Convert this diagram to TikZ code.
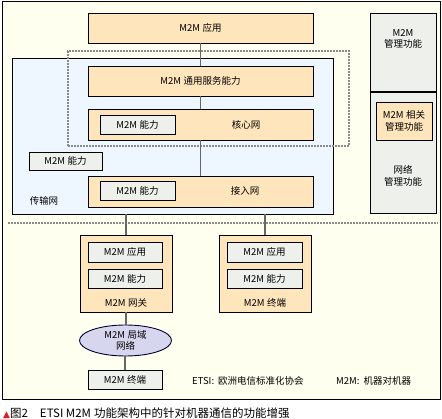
\documentclass[tikz,border=0pt]{standalone}
\usepackage{fontspec}
\setmainfont{Noto Sans CJK SC}
\usetikzlibrary{shapes.geometric}
\definecolor{cream}{HTML}{FFFFEF}
\definecolor{peach}{HTML}{FFE5BC}
\definecolor{lgray}{HTML}{EDF0EB}
\definecolor{lblue}{HTML}{EEF6FF}
\definecolor{lav}{HTML}{D6D6EE}
\definecolor{conn}{HTML}{666666}
\definecolor{dotc}{HTML}{8A8A8A}
\definecolor{capred}{HTML}{D02020}
\newcommand{\mtm}{M2M\hspace{2.5pt}}
\tikzset{
  bx/.style={draw=black, line width=0.9pt, inner sep=0pt, font=\fontsize{9.5}{11.5}\selectfont},
  orange/.style={bx, fill=peach},
  graybox/.style={bx, fill=lgray},
  conline/.style={draw=conn, line width=1.4pt},
  dotline/.style={draw=dotc, line width=1.6pt, dash pattern=on 1.6pt off 1.4pt},
  lbl/.style={inner sep=0pt, font=\fontsize{9.5}{11.5}\selectfont, align=center}
}
\begin{document}
\begin{tikzpicture}[x=1pt,y=-1pt]
\useasboundingbox (0,0) rectangle (442,419);
% outer frame
\node[draw=black, line width=0.8pt, fill=cream, minimum width=438pt, minimum height=398pt, inner sep=0pt] (frame) at (221,200) {};
% dotted separator
\coordinate (sepL) at (8,223);
\coordinate (sepR) at (438,223);
\draw[dotline] (sepL) -- (sepR);
% transport network
\node[draw=black, line width=0.9pt, fill=lblue, minimum width=321pt, minimum height=156pt, inner sep=0pt] (trans) at (172.5,136) {};
\node[lbl] (translbl) at (44,201) {传输网};
% app
\node[orange, minimum width=225pt, minimum height=30pt] (app) at (200.5,28) {\mtm 应用};
\node[orange, minimum width=225pt, minimum height=30pt] (csc) at (200.5,81) {\mtm 通用服务能力};
\node[orange, minimum width=225pt, minimum height=31pt] (core) at (200.5,124.5) {};
\node[lbl] (corelbl) at (246,125) {核心网};
\node[graybox, minimum width=75pt, minimum height=19pt] (corecap) at (137.5,124.5) {\mtm 能力};
\node[graybox, minimum width=73pt, minimum height=18pt] (midcap) at (65.5,161) {\mtm 能力};
\node[orange, minimum width=225pt, minimum height=31pt] (access) at (200.5,191.5) {};
\node[lbl] (acclbl) at (245,191) {接入网};
\node[graybox, minimum width=75pt, minimum height=19pt] (acccap) at (137.5,190.5) {\mtm 能力};
% dotted rectangle
\node[dotline, minimum width=281pt, minimum height=95pt, inner sep=0pt] (dotrect) at (208.5,98.5) {};
% connectors main
\draw[conline] (app.south) -- (csc.north);
\draw[conline] (csc.south) -- (core.north);
\draw[conline] (core.south) -- (access.north);
% management column
\node[graybox, minimum width=66pt, minimum height=79pt] (mgmt) at (403,52.5) {};
\node[graybox, minimum width=66pt, minimum height=121pt] (netm) at (403,152.5) {};
\draw[line width=2pt] (mgmt.south west) -- (mgmt.south east);
\node[lbl] (mgmtlbl) at (403,39) {M2M\\管理功能};
\node[orange, minimum width=56pt, minimum height=38pt, align=center] (rel) at (404,121) {\mtm 相关\\管理功能};
\node[lbl] (netmlbl) at (403,176) {网络\\管理功能};
% gateway
\node[orange, minimum width=92pt, minimum height=77pt] (gw) at (126,273.5) {};
\node[graybox, minimum width=74pt, minimum height=20pt] (gwapp) at (125,252) {\mtm 应用};
\node[graybox, minimum width=74pt, minimum height=19pt] (gwcap) at (125,278.5) {\mtm 能力};
\node[lbl] (gwlbl) at (126,303) {\mtm 网关};
% device
\node[orange, minimum width=92pt, minimum height=77pt] (dev) at (265,273.5) {};
\node[graybox, minimum width=75pt, minimum height=20pt] (devapp) at (264.5,252) {\mtm 应用};
\node[graybox, minimum width=75pt, minimum height=19pt] (devcap) at (264.5,278.5) {\mtm 能力};
\node[lbl] (devlbl) at (265,303) {\mtm 终端};
\draw[conline] (trans.south -| gw.north) -- (gw.north);
\draw[conline] (trans.south -| dev.north) -- (dev.north);
% LAN
\node[ellipse, draw=black!80!blue, line width=0.9pt, fill=lav, minimum width=92pt, minimum height=31pt, inner sep=0pt, align=center, font=\fontsize{9.5}{11}\selectfont] (lan) at (125.5,340.5) {\mtm 局域\\网络};
\node[graybox, minimum width=74pt, minimum height=19pt] (term) at (125,379.5) {\mtm 终端};
\draw[conline] (gw.south) -- (lan.north -| gw.south);
\draw[conline] (lan.south -| term.north) -- (term.north);
% legend
\node[lbl, anchor=west] (etsi) at (192,381) {ETSI:\hspace{4pt}欧洲电信标准化协会};
\node[lbl, anchor=west] (m2mdef) at (336,381) {M2M:\hspace{4pt}机器对机器};
% caption
\node[inner sep=0pt, anchor=west, font=\fontsize{11.5}{13}\selectfont] (cap) at (3,413) {\textcolor{capred}{\fontspec{DejaVu Sans}\fontsize{9}{10}\selectfont ▲}图2\hspace{12pt}ETSI M2M\hspace{3pt}功能架构中的针对机器通信的功能增强};
\end{tikzpicture}
\end{document}
